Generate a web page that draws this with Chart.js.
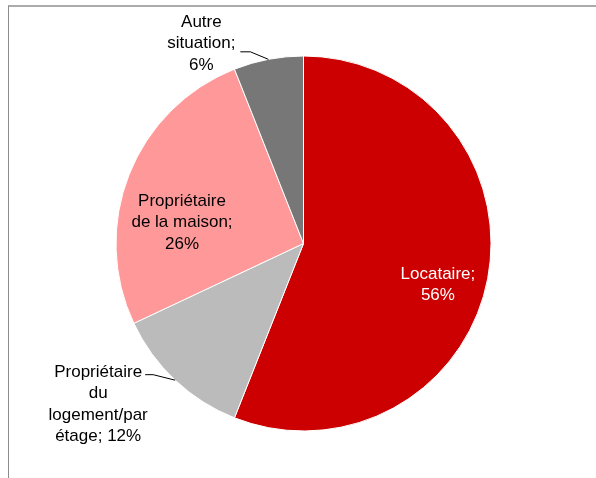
<!DOCTYPE html>
<html>
<head>
<meta charset="utf-8">
<script src="https://cdn.jsdelivr.net/npm/chart.js@4.4.1/dist/chart.umd.min.js"></script>
<style>
  html, body { margin: 0; padding: 0; background: #ffffff; overflow: hidden; }
  #wrap { position: relative; width: 596px; height: 478px; }
  #frame { position: absolute; left: 8px; top: 5px; width: 700px; height: 600px;
           border-top: 2px solid #ababab; border-left: 1px solid #8c8c8c; box-sizing: border-box; }
  canvas { position: absolute; left: 0; top: 0; }
</style>
</head>
<body>
<div id="wrap">
  <div id="frame"></div>
  <canvas id="c" width="596" height="478"></canvas>
</div>
<script>
// ---- data ----
const categories = ["Locataire", "Propriétaire du logement/par étage", "Propriétaire de la maison", "Autre situation"];
const shares = [56, 12, 26, 6];
const labelLines = [
  ["Locataire;", "56%"],
  ["Propriétaire", "du", "logement/par", "étage; 12%"],
  ["Propriétaire", "de la maison;", "26%"],
  ["Autre", "situation;", "6%"]
];
const sliceColors = ["#cc0000", "#bbbbbb", "#ff9999", "#777777"];

// ---- label placement (style, not data) ----
const FONT_SIZE = 17;
const LINE_H = 21.5;
const labelPlacement = [
  { mode: "inside", frac: 0.748, angleOffsetDeg: 5.8, color: "#ffffff" },
  { mode: "outside", elbow: [-22, -5.5], end: [-30, -5.5], text: [-77, 22.7], color: "#000000" },
  { mode: "inside", frac: 0.659, angleOffsetDeg: -11.1, color: "#000000" },
  { mode: "outside", elbow: [-18, -7.5], end: [-28, -7.5], text: [-67, -17], color: "#000000" }
];

const labelPlugin = {
  id: "sliceLabels",
  afterDatasetsDraw(chart) {
    const ctx = chart.ctx;
    const meta = chart.getDatasetMeta(0);
    ctx.save();
    ctx.font = FONT_SIZE + "px 'Liberation Sans', Arial, sans-serif";
    ctx.textAlign = "center";
    ctx.textBaseline = "alphabetic";
    const capH = FONT_SIZE * 0.716;
    meta.data.forEach((arc, i) => {
      const p = arc.getProps(["x", "y", "startAngle", "endAngle", "outerRadius"], true);
      const mid = (p.startAngle + p.endAngle) / 2;
      const pl = labelPlacement[i];
      let cx, cy;
      if (pl.mode === "inside") {
        const a = mid + pl.angleOffsetDeg * Math.PI / 180;
        cx = p.x + Math.cos(a) * p.outerRadius * pl.frac;
        cy = p.y + Math.sin(a) * p.outerRadius * pl.frac;
      } else {
        const ex = p.x + Math.cos(mid) * p.outerRadius;
        const ey = p.y + Math.sin(mid) * p.outerRadius;
        ctx.strokeStyle = "#000000";
        ctx.lineWidth = 1;
        ctx.beginPath();
        ctx.moveTo(ex, ey);
        ctx.lineTo(ex + pl.elbow[0], ey + pl.elbow[1]);
        ctx.lineTo(ex + pl.end[0], ey + pl.end[1]);
        ctx.stroke();
        cx = ex + pl.text[0];
        cy = ey + pl.text[1];
      }
      const lines = labelLines[i];
      ctx.fillStyle = pl.color;
      lines.forEach((t, k) => {
        const lineCenter = cy + (k - (lines.length - 1) / 2) * LINE_H;
        ctx.fillText(t, cx, lineCenter + capH / 2);
      });
    });
    ctx.restore();
  }
};

new Chart(document.getElementById("c"), {
  type: "pie",
  data: {
    labels: categories,
    datasets: [{
      data: shares,
      backgroundColor: sliceColors,
      borderColor: "#ffffff",
      borderWidth: 1
    }]
  },
  options: {
    responsive: false,
    animation: false,
    rotation: 0,
    layout: { padding: { left: 115.5, right: 104.5, top: 55.5, bottom: 46.5 } },
    plugins: {
      legend: { display: false },
      tooltip: { enabled: false }
    }
  },
  plugins: [labelPlugin]
});
</script>
</body>
</html>
